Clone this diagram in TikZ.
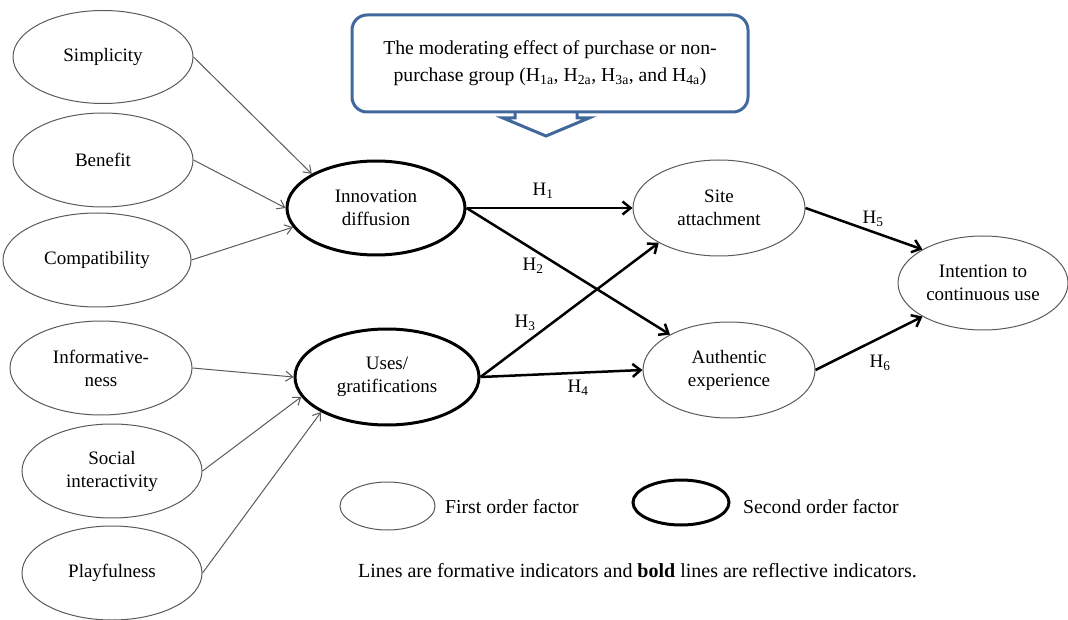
\documentclass[tikz,border=0pt]{standalone}
\usepackage{fontspec}
\setmainfont{Liberation Serif}
\usetikzlibrary{shapes.geometric,arrows.meta}
\definecolor{boxblue}{HTML}{41689C}
\definecolor{thingray}{HTML}{5A5A5A}
\tikzset{
  fo/.style={ellipse,draw=thingray,line width=1pt,inner sep=0pt,align=center,font=\fontsize{19}{23}\selectfont},
  so/.style={ellipse,draw=black,line width=3pt,inner sep=0pt,align=center,font=\fontsize{19}{23}\selectfont},
  thinarr/.style={draw=thingray,line width=1pt,-{Straight Barb[length=7pt,width=10pt,line width=1pt]}},
  thickarr/.style={draw=black,line width=2.5pt,-{Straight Barb[length=8pt,width=13pt,line width=2.5pt]}},
  lbl/.style={font=\fontsize{19}{23}\selectfont,inner sep=0pt},
  legtext/.style={font=\fontsize{19.7}{23}\selectfont,inner sep=0pt},
}
\begin{document}
\begin{tikzpicture}[x=1pt,y=-1pt]
\useasboundingbox (0,0) rectangle (1068,620);
% top box
\node[draw=boxblue,line width=3pt,rounded corners=15pt,minimum width=396pt,minimum height=97pt,align=center,font=\fontsize{19.7}{30}\selectfont] (mod) at (550,63.5)
  {\raisebox{-4pt}{The moderating effect of purchase or non-}\\\raisebox{-1pt}{purchase group (H\textsubscript{1a}, H\textsubscript{2a}, H\textsubscript{3a}, and H\textsubscript{4a})}};
\draw[boxblue,line width=3pt,line join=miter] (515,113) -- (515,118) -- (503,118) -- (546,136) -- (589,118) -- (577,118) -- (577,113);
% first-order factors
\node[fo,minimum width=180pt,minimum height=93pt] (simp) at (103,57) {Simplicity};
\node[fo,minimum width=180pt,minimum height=94pt] (ben) at (103,160) {Benefit};
\node[fo,minimum width=188pt,minimum height=94pt] (comp) at (97,260) {Compatibility};
\node[fo,minimum width=182pt,minimum height=94pt] (info) at (101,368) {Informative-\\ness};
\node[fo,minimum width=180pt,minimum height=94pt] (soc) at (112,471) {Social\\interactivity};
\node[fo,minimum width=180pt,minimum height=94pt] (play) at (112,573) {Playfulness};
% second-order factors
\node[so,minimum width=178pt,minimum height=94pt] (innov) at (376,208) {Innovation\\diffusion};
\node[so,minimum width=184pt,minimum height=96pt] (uses) at (387,377) {Uses/\\gratifications};
% outcomes
\node[fo,minimum width=172pt,minimum height=96pt] (site) at (719,208) {Site\\attachment};
\node[fo,minimum width=172pt,minimum height=96pt] (auth) at (729,370) {Authentic\\experience};
\node[fo,minimum width=170pt,minimum height=94pt] (intent) at (983,283) {Intention to\\continuous use};
% thin arrows
\draw[thinarr] (simp.east) -- (innov.152);
\draw[thinarr] (ben.east) -- (innov.180);
\draw[thinarr] (comp.east) -- (innov.193);
\draw[thinarr] (info.east) -- (uses.180);
\draw[thinarr] (soc.east) -- (uses.193);
\draw[thinarr] (play.east) -- (uses.208);
% thick arrows
\draw[thickarr] (innov.east) -- (site.west);
\draw[thickarr] (innov.east) -- (auth.149);
\draw[thickarr] (uses.east) -- (site.210);
\draw[thickarr] (uses.east) -- (auth.west);
\draw[thickarr] (site.east) -- (intent.151);
\draw[thickarr] (auth.east) -- (intent.209);
% labels
\node[lbl] (h1) at (543,191) {H\textsubscript{1}};
\node[lbl] (h2) at (533,266) {H\textsubscript{2}};
\node[lbl] (h3) at (525,323) {H\textsubscript{3}};
\node[lbl] (h4) at (578,388) {H\textsubscript{4}};
\node[lbl] (h5) at (873,219) {H\textsubscript{5}};
\node[lbl] (h6) at (880,363) {H\textsubscript{6}};
% legend
\node[fo,minimum width=95pt,minimum height=48pt] (lg1) at (387.5,506) {};
\node[legtext,anchor=west] (lg1t) at (445,507) {First order factor};
\node[so,minimum width=96pt,minimum height=45pt] (lg2) at (681,502.5) {};
\node[legtext,anchor=west] (lg2t) at (743,507) {Second order factor};
\node[legtext,font=\fontsize{20}{24}\selectfont] (note) at (637.5,571) {Lines are formative indicators and \textbf{bold} lines are reflective indicators.};
\end{tikzpicture}
\end{document}
